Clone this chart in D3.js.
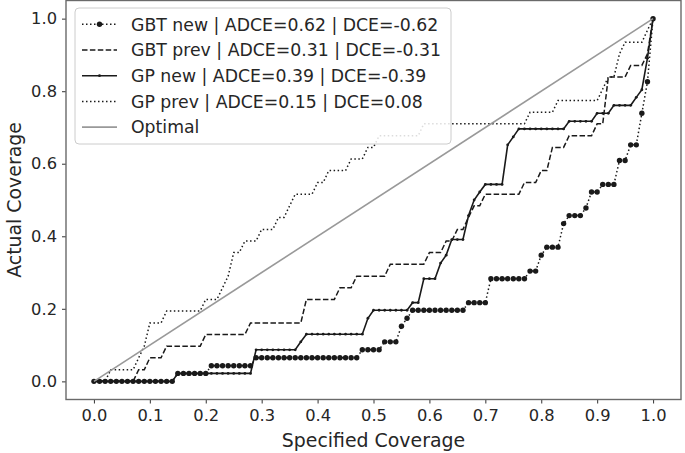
<!DOCTYPE html>
<html><head><meta charset="utf-8">
<script src="https://cdn.jsdelivr.net/npm/d3@7"></script>
<style>
body{margin:0;background:#fff}
svg{display:block}
text{font-family:"DejaVu Sans",sans-serif;fill:#262626}
</style>
</head><body>
<svg id="chart" width="685" height="453"></svg>
<script>
// ---------------- data ----------------
const specified = [
0.00,0.01,0.02,0.03,0.04,0.05,0.06,0.07,0.08,0.09,
0.10,0.11,0.12,0.13,0.14,0.15,0.16,0.17,0.18,0.19,
0.20,0.21,0.22,0.23,0.24,0.25,0.26,0.27,0.28,0.29,
0.30,0.31,0.32,0.33,0.34,0.35,0.36,0.37,0.38,0.39,
0.40,0.41,0.42,0.43,0.44,0.45,0.46,0.47,0.48,0.49,
0.50,0.51,0.52,0.53,0.54,0.55,0.56,0.57,0.58,0.59,
0.60,0.61,0.62,0.63,0.64,0.65,0.66,0.67,0.68,0.69,
0.70,0.71,0.72,0.73,0.74,0.75,0.76,0.77,0.78,0.79,
0.80,0.81,0.82,0.83,0.84,0.85,0.86,0.87,0.88,0.89,
0.90,0.91,0.92,0.93,0.94,0.95,0.96,0.97,0.98,0.99,
1.00];

const gbtNew = [
0,0,0,0,0,0,0,0,0,0,
0,0,0,0,0,0.022,0.022,0.022,0.022,0.022,
0.022,0.043,0.043,0.043,0.043,0.043,0.043,0.043,0.043,0.065,
0.065,0.065,0.065,0.065,0.065,0.065,0.065,0.065,0.065,0.065,
0.065,0.065,0.065,0.065,0.065,0.065,0.065,0.065,0.087,0.087,
0.087,0.087,0.109,0.109,0.109,0.152,0.174,0.196,0.196,0.196,
0.196,0.196,0.196,0.196,0.196,0.196,0.196,0.217,0.217,0.217,
0.217,0.283,0.283,0.283,0.283,0.283,0.283,0.283,0.304,0.304,
0.348,0.370,0.370,0.370,0.435,0.457,0.457,0.457,0.478,0.522,
0.522,0.543,0.543,0.543,0.609,0.609,0.652,0.652,0.739,0.826,
1.0];

const gbtPrev = [
0,0,0,0,0,0,0,0,0.032,0.032,
0.065,0.065,0.065,0.097,0.097,0.097,0.097,0.097,0.097,0.097,
0.129,0.129,0.129,0.129,0.129,0.129,0.129,0.129,0.161,0.161,
0.161,0.161,0.161,0.161,0.161,0.161,0.161,0.161,0.226,0.226,
0.226,0.226,0.226,0.226,0.258,0.258,0.258,0.290,0.290,0.290,
0.290,0.290,0.290,0.323,0.323,0.323,0.323,0.323,0.323,0.323,
0.355,0.355,0.355,0.387,0.387,0.419,0.419,0.452,0.484,0.484,
0.516,0.516,0.516,0.516,0.516,0.516,0.516,0.548,0.548,0.548,
0.581,0.581,0.645,0.645,0.645,0.677,0.677,0.677,0.677,0.677,
0.710,0.710,0.839,0.839,0.839,0.839,0.871,0.871,0.871,0.903,
1.0];

const gpNew = [
0,0,0,0,0,0,0,0,0,0,
0,0,0,0,0,0.022,0.022,0.022,0.022,0.022,
0.022,0.022,0.022,0.022,0.022,0.022,0.022,0.022,0.022,0.087,
0.087,0.087,0.087,0.087,0.087,0.087,0.087,0.109,0.130,0.130,
0.130,0.130,0.130,0.130,0.130,0.130,0.130,0.130,0.130,0.174,
0.196,0.196,0.196,0.196,0.196,0.196,0.196,0.217,0.217,0.283,
0.283,0.283,0.326,0.348,0.391,0.391,0.391,0.457,0.500,0.522,
0.543,0.543,0.543,0.543,0.652,0.674,0.696,0.696,0.696,0.696,
0.696,0.696,0.696,0.696,0.696,0.717,0.717,0.717,0.717,0.717,
0.739,0.739,0.739,0.761,0.761,0.761,0.761,0.783,0.804,0.891,
1.0];

const gpPrev = [
0,0,0,0.032,0.032,0.032,0.032,0.032,0.065,0.097,
0.161,0.161,0.161,0.194,0.194,0.194,0.194,0.194,0.194,0.194,
0.226,0.226,0.226,0.258,0.290,0.355,0.355,0.387,0.387,0.387,
0.419,0.419,0.419,0.452,0.452,0.484,0.516,0.516,0.516,0.516,
0.548,0.548,0.581,0.581,0.581,0.581,0.613,0.613,0.613,0.645,
0.645,0.677,0.677,0.677,0.677,0.677,0.677,0.677,0.677,0.710,
0.710,0.710,0.710,0.710,0.710,0.710,0.710,0.710,0.710,0.710,
0.710,0.710,0.710,0.710,0.710,0.710,0.710,0.710,0.742,0.742,
0.742,0.742,0.742,0.774,0.774,0.774,0.774,0.774,0.774,0.774,
0.774,0.806,0.839,0.839,0.903,0.935,0.935,0.935,0.935,0.968,
1.0];

const optimalX = [0, 1];
const optimalY = [0, 1];

const xTicks = [0.0,0.1,0.2,0.3,0.4,0.5,0.6,0.7,0.8,0.9,1.0];
const yTicks = [0.0,0.2,0.4,0.6,0.8,1.0];

const seriesNames = ["GBT new","GBT prev","GP new","GP prev","Optimal"];
const adce = ["0.62","0.31","0.39","0.15"];
const dce  = ["-0.62","-0.31","-0.39","0.08"];
const xLabel = "Specified Coverage";
const yLabel = "Actual Coverage";

// ---------------- drawing ----------------
const svg = d3.select("#chart");
const L = 66, R = 681, T = 0.5, B = 399.5;
const x = d3.scaleLinear().domain([-0.05, 1.05]).range([L, R]);
const y = d3.scaleLinear().domain([-0.05, 1.05]).range([B, T]);

svg.append("rect").attr("width",685).attr("height",453).attr("fill","#fff");

svg.append("defs").append("clipPath").attr("id","clip")
  .append("rect").attr("x",L).attr("y",T).attr("width",R-L).attr("height",B-T);

const styles = {
  "GBT new":  {stroke:"#1a1a1a", width:1.5, dash:"1.5,2.5", marker:2.7},
  "GBT prev": {stroke:"#1a1a1a", width:1.5, dash:"5.5,2.4", marker:0},
  "GP new":   {stroke:"#1a1a1a", width:1.6, dash:null, marker:1.4},
  "GP prev":  {stroke:"#1a1a1a", width:1.5, dash:"1.5,2.5", marker:0},
  "Optimal":  {stroke:"#999999", width:1.6, dash:null, marker:0}
};

const series = [
  {name:"GBT new", xs:specified, ys:gbtNew},
  {name:"GBT prev", xs:specified, ys:gbtPrev},
  {name:"GP new", xs:specified, ys:gpNew},
  {name:"GP prev", xs:specified, ys:gpPrev},
  {name:"Optimal", xs:optimalX, ys:optimalY}
];

const plot = svg.append("g").attr("clip-path","url(#clip)");
const line = d3.line().x(d=>x(d[0])).y(d=>y(d[1]));

series.forEach(s=>{
  const st = styles[s.name];
  const pts = s.xs.map((v,i)=>[v, s.ys[i]]);
  const p = plot.append("path").datum(pts)
    .attr("d", line).attr("fill","none")
    .attr("stroke", st.stroke).attr("stroke-width", st.width);
  if (st.dash) p.attr("stroke-dasharray", st.dash);
  if (st.marker) {
    plot.append("g").selectAll("circle").data(pts).join("circle")
      .attr("cx", d=>x(d[0])).attr("cy", d=>y(d[1]))
      .attr("r", st.marker).attr("fill", st.stroke);
  }
});

// axes
const fmt = d3.format(".1f");
const gx = svg.append("g").attr("transform",`translate(0,${B})`)
  .call(d3.axisBottom(x).tickValues(xTicks).tickFormat(fmt).tickSize(4).tickPadding(5).tickSizeOuter(0));
const gy = svg.append("g").attr("transform",`translate(${L},0)`)
  .call(d3.axisLeft(y).tickValues(yTicks).tickFormat(fmt).tickSize(4).tickPadding(5).tickSizeOuter(0));
[gx,gy].forEach(g=>{
  g.select(".domain").remove();
  g.selectAll(".tick line").attr("stroke","#444").attr("stroke-width",1.1);
  g.selectAll(".tick text").attr("font-size","16.3px").attr("fill","#262626")
    .attr("font-family","DejaVu Sans, sans-serif");
});
gx.selectAll(".tick text").attr("dy","0.75em");

// frame
svg.append("rect").attr("x",L).attr("y",T).attr("width",R-L).attr("height",B-T)
  .attr("fill","none").attr("stroke","#6a6a6a").attr("stroke-width",1.4);

// axis labels
svg.append("text").attr("x",(L+R)/2).attr("y",447).attr("text-anchor","middle")
  .attr("font-size","18.9px").text(xLabel);
svg.append("text").attr("transform",`translate(21,${(T+B)/2}) rotate(-90)`)
  .attr("text-anchor","middle").attr("font-size","18.9px").text(yLabel);

// legend
const lg = svg.append("g");
lg.append("rect").attr("x",75).attr("y",8).attr("width",376).attr("height",136)
  .attr("rx",4).attr("fill","#fff").attr("fill-opacity",0.85)
  .attr("stroke","#cccccc").attr("stroke-width",1);
seriesNames.forEach((n,i)=>{
  const st = styles[n];
  const cy = 24.3 + i*25.7;
  const hl = lg.append("line").attr("x1",82).attr("x2",117).attr("y1",cy).attr("y2",cy)
    .attr("stroke",st.stroke).attr("stroke-width",st.width);
  if (st.dash) hl.attr("stroke-dasharray", st.dash);
  if (st.marker) lg.append("circle").attr("cx",99.5).attr("cy",cy).attr("r",st.marker).attr("fill",st.stroke);
  const label = i < 4 ? `${n} | ADCE=${adce[i]} | DCE=${dce[i]}` : n;
  lg.append("text").attr("x",131).attr("y",cy).attr("dy","0.36em")
    .attr("font-size","17.3px").text(label);
});
</script>
</body></html>
